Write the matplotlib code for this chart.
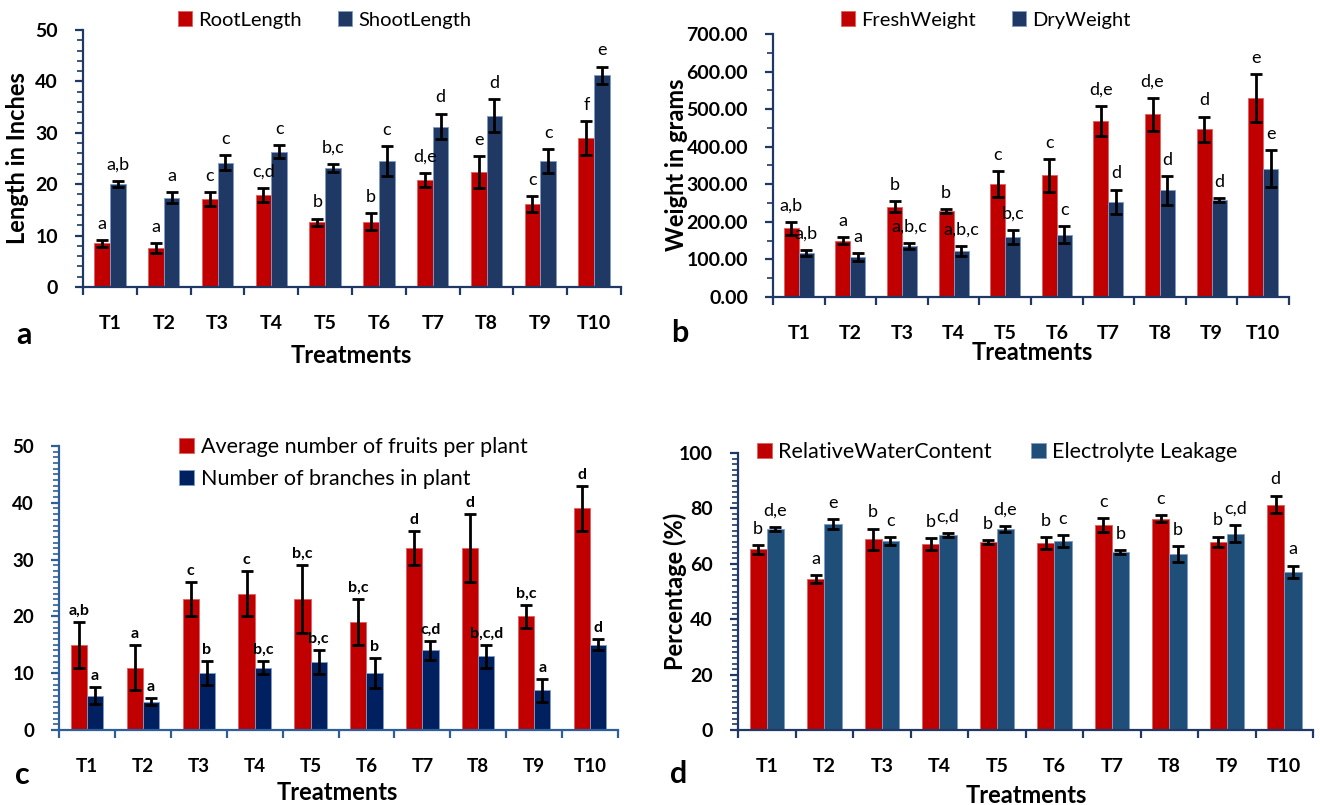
import matplotlib
matplotlib.use("Agg")
import matplotlib.pyplot as plt
from matplotlib.ticker import MultipleLocator, FormatStrFormatter, FixedLocator
import numpy as np

plt.rcParams['font.family'] = ['Lato', 'DejaVu Sans']

treatments = ["T1", "T2", "T3", "T4", "T5", "T6", "T7", "T8", "T9", "T10"]

# panel a - lengths (inches)
root_len = [8.5, 7.6, 17.1, 17.9, 12.6, 12.7, 20.8, 22.4, 16.1, 28.9]
root_err = [0.65, 0.9, 1.3, 1.4, 0.7, 1.7, 1.3, 3.1, 1.6, 3.3]
root_lbl = ["a", "a", "c", "c,d", "b", "b", "d,e", "e", "c", "f"]
shoot_len = [20.0, 17.4, 24.2, 26.3, 23.1, 24.5, 31.2, 33.3, 24.5, 41.2]
shoot_err = [0.6, 1.1, 1.4, 1.3, 0.75, 2.9, 2.5, 3.2, 2.3, 1.65]
shoot_lbl = ["a,b", "a", "c", "c", "b,c", "c", "d", "d", "c", "e"]

# panel b - weights (grams)
fresh_w = [183, 150, 240, 229.5, 301, 323.5, 468, 486, 446.6, 529]
fresh_err = [17, 10, 15, 5, 34, 44, 40, 43, 33, 64]
fresh_lbl = ["a,b", "a", "b", "b", "c", "c", "d,e", "d,e", "d", "e"]
dry_w = [116, 105.5, 135.6, 122, 159.5, 165.6, 254, 283.6, 257.8, 341]
dry_err = [8, 11, 9, 13, 18, 23, 32, 38.5, 6, 49]
dry_lbl = ["a,b", "a", "a,b,c", "a,b,c", "b,c", "c", "d", "d", "d", "e"]

# panel c - counts
fruits = [15, 11, 23, 24, 23, 19, 32, 32, 20, 39]
fruits_err = [4, 4, 3, 4, 6, 4, 3, 6, 2, 4]
fruits_lbl = ["a,b", "a", "c", "c", "b,c", "b,c", "d", "d", "b,c", "d"]
branches = [6, 5, 10, 11, 12, 10, 14, 13, 7, 15]
branches_err = [1.5, 0.6, 2.1, 1.2, 2.1, 2.6, 1.6, 2, 2, 1]
branches_lbl = ["a", "a", "b", "b,c", "b,c", "b", "c,d", "b,c,d", "a", "d"]

# panel d - percentages
rwc = [65.2, 54.5, 68.9, 67.1, 67.8, 67.5, 73.9, 76.3, 68.0, 81.4]
rwc_err = [1.6, 1.5, 3.8, 2.2, 0.8, 2.0, 2.6, 1.3, 1.8, 3.2]
rwc_lbl = ["b", "a", "b", "b", "b", "b", "c", "c", "b", "d"]
el = [72.5, 74.3, 68.3, 70.3, 72.5, 68.2, 64.2, 63.6, 70.8, 57.1]
el_err = [0.8, 1.7, 1.4, 0.7, 1.2, 2.1, 0.8, 2.8, 3.1, 2.2]
el_lbl = ["d,e", "e", "c", "c,d", "d,e", "c", "b", "b", "c,d", "a"]

RED = "#C00000"

W, H = 1320, 805
fig = plt.figure(figsize=(13.2, 8.05), dpi=100)


def box(x0, x1, ytop, ybot):
    # pixel box -> figure fraction
    return [x0 / W, 1 - ybot / H, (x1 - x0) / W, (ybot - ytop) / H]


def draw_panel(rect, s1, e1, l1, s2, e2, l2, c2, axcol, ymax, major, minor,
               tick_fs, ann_fs, ann_weight, fmt=None, width=0.29, ann_off=6):
    ax = fig.add_axes(rect)
    x = np.arange(len(treatments))
    ekw = dict(elinewidth=2, capthick=2, ecolor="black")
    ax.bar(x - width / 2, s1, width, color=RED, edgecolor="#E06060", linewidth=0.6,
           yerr=e1, capsize=4, error_kw=ekw, zorder=2)
    ax.bar(x + width / 2, s2, width, color=c2, edgecolor="#7F9CC8", linewidth=0.6,
           yerr=e2, capsize=4, error_kw=ekw, zorder=2)
    for i in range(len(x)):
        ax.annotate(l1[i], (x[i] - width / 2, s1[i] + e1[i]), xytext=(0, ann_off),
                    textcoords="offset points", ha="center", va="bottom",
                    fontsize=ann_fs, fontweight=ann_weight)
        ax.annotate(l2[i], (x[i] + width / 2, s2[i] + e2[i]), xytext=(0, ann_off),
                    textcoords="offset points", ha="center", va="bottom",
                    fontsize=ann_fs, fontweight=ann_weight)
    ax.set_xlim(-0.5, len(x) - 0.5)
    ax.set_ylim(0, ymax)
    ax.spines["top"].set_visible(False)
    ax.spines["right"].set_visible(False)
    for sp in ["left", "bottom"]:
        ax.spines[sp].set_color(axcol)
        ax.spines[sp].set_linewidth(1.6)
    ax.yaxis.set_major_locator(MultipleLocator(major))
    ax.yaxis.set_minor_locator(MultipleLocator(minor))
    if fmt:
        ax.yaxis.set_major_formatter(FormatStrFormatter(fmt))
    ax.set_xticks(x)
    ax.set_xticklabels(treatments)
    ax.xaxis.set_minor_locator(FixedLocator(np.arange(-0.5, len(x), 1.0)))
    ax.tick_params(axis="x", which="major", length=0, pad=20, labelsize=tick_fs)
    ax.tick_params(axis="x", which="minor", length=6, width=1.6, color=axcol)
    ax.tick_params(axis="y", which="major", length=6, width=1.6, color=axcol,
                   pad=12, labelsize=tick_fs)
    ax.tick_params(axis="y", which="minor", length=4, width=1.2, color=axcol)
    for t in ax.get_xticklabels() + ax.get_yticklabels():
        t.set_fontweight("bold")
    return ax


leg_kw = dict(frameon=False, bbox_transform=fig.transFigure, handlelength=0.7,
              handleheight=0.7, handletextpad=0.3)

# ---- panel a
ax_a = draw_panel(box(83, 621, 30, 287), root_len, root_err, root_lbl,
                  shoot_len, shoot_err, shoot_lbl, "#203864", "#203864",
                  50, 10, 2, 14, 13, "normal")
ax_a.legend(["RootLength", "ShootLength"], loc="center", ncol=2,
            bbox_to_anchor=(325 / W, 1 - 20 / H), fontsize=14.5,
            columnspacing=1.8, **leg_kw)
fig.text(18 / W, 1 - 158 / H, "Length in Inches", rotation=90, ha="center",
         va="center", fontsize=17, fontweight="bold")
fig.text(351 / W, 1 - 355 / H, "Treatments", ha="center", va="center",
         fontsize=17, fontweight="bold")
fig.text(24 / W, 1 - 335 / H, "a", ha="center", va="center", fontsize=22,
         fontweight="bold")

# ---- panel b
ax_b = draw_panel(box(773, 1289, 34, 297), fresh_w, fresh_err, fresh_lbl,
                  dry_w, dry_err, dry_lbl, "#203864", "#203864",
                  700, 100, 50, 14, 13, "normal", fmt="%.2f")
ax_b.legend(["FreshWeight", "DryWeight"], loc="center", ncol=2,
            bbox_to_anchor=(986 / W, 1 - 20 / H), fontsize=14.5,
            columnspacing=1.8, **leg_kw)
fig.text(676 / W, 1 - 165 / H, "Weight in grams", rotation=90, ha="center",
         va="center", fontsize=17, fontweight="bold")
fig.text(1032 / W, 1 - 352 / H, "Treatments", ha="center", va="center",
         fontsize=17, fontweight="bold")
fig.text(680 / W, 1 - 333 / H, "b", ha="center", va="center", fontsize=22,
         fontweight="bold")

# ---- panel c
ax_c = draw_panel(box(59, 618, 446, 730), fruits, fruits_err, fruits_lbl,
                  branches, branches_err, branches_lbl, "#002060", "#2F5F98",
                  50, 10, 1, 13.5, 11.5, "bold", ann_off=3)
ax_c.legend(["Average number of fruits per plant", "Number of branches in plant"],
            loc="upper left", ncol=1, bbox_to_anchor=(160 / W, 1 - 418 / H),
            fontsize=15.5, labelspacing=0.55, **leg_kw)
fig.text(337 / W, 1 - 792 / H, "Treatments", ha="center", va="center",
         fontsize=17, fontweight="bold")
fig.text(22 / W, 1 - 775 / H, "c", ha="center", va="center", fontsize=22,
         fontweight="bold")

# ---- panel d
ax_d = draw_panel(box(738, 1313, 453, 730), rwc, rwc_err, rwc_lbl,
                  el, el_err, el_lbl, "#1F4E79", "#203864",
                  100, 20, 2, 14, 13, "normal", width=0.30)
ax_d.legend(["RelativeWaterContent", "Electrolyte Leakage"], loc="center", ncol=2,
            bbox_to_anchor=(997 / W, 1 - 452 / H), fontsize=15.5,
            columnspacing=1.8, **leg_kw)
fig.text(675 / W, 1 - 591 / H, "Percentage (%)", rotation=90, ha="center",
         va="center", fontsize=17, fontweight="bold")
fig.text(1026 / W, 1 - 795 / H, "Treatments", ha="center", va="center",
         fontsize=17, fontweight="bold")
fig.text(679 / W, 1 - 774 / H, "d", ha="center", va="center", fontsize=22,
         fontweight="bold")

fig.savefig("out.png", dpi=100)
